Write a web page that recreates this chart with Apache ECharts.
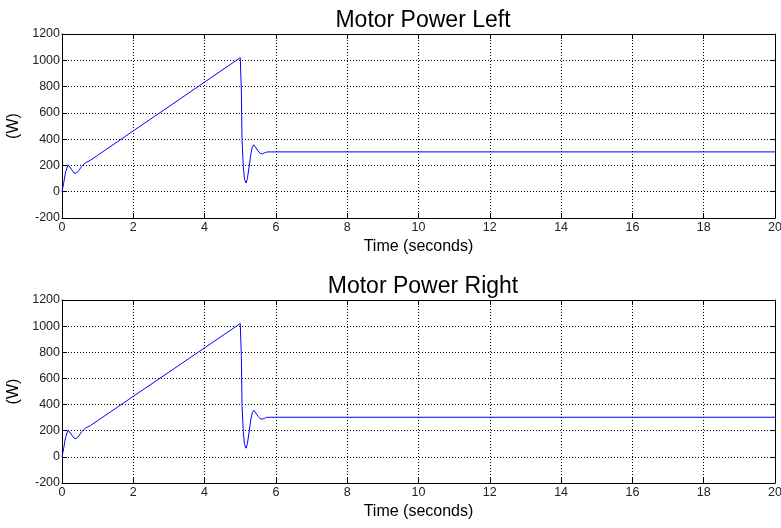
<!DOCTYPE html>
<html>
<head>
<meta charset="utf-8">
<script src="https://cdn.jsdelivr.net/npm/echarts@6/dist/echarts.min.js"></script>
<style>
  html, body { margin: 0; padding: 0; background: #fff; }
  #chart { width: 781px; height: 528px; }
</style>
</head>
<body>
<div id="chart"></div>
<script>
// time in seconds
const timeValues = [0, 0.05, 0.1, 0.17, 0.22, 0.28, 0.34, 0.4, 0.47, 0.55, 0.65, 0.8, 1, 2, 3, 4, 5,
    5.03, 5.05, 5.085, 5.12, 5.16, 5.2, 5.25, 5.3, 5.34, 5.38, 5.43, 5.5, 5.56, 5.62, 5.68, 5.74, 5.85, 6, 20];
// power (W)
const powerLeft = [0, 70, 150, 205, 195, 165, 142, 140, 160, 192, 218, 240, 277, 463, 648, 834, 1020,
    775, 395, 192, 95, 66, 100, 192, 290, 340, 357, 345, 310, 292, 288, 295, 302, 303, 303, 303];
const powerRight = [0, 70, 150, 205, 195, 165, 142, 140, 160, 192, 218, 240, 277, 463, 648, 834, 1020,
    775, 395, 192, 95, 66, 100, 192, 290, 340, 357, 345, 310, 292, 288, 295, 302, 303, 303, 303];
const titles = ['Motor Power Left', 'Motor Power Right'];

const font = '"Liberation Sans", Arial, sans-serif';
let chart = echarts.init(document.getElementById('chart'));

const gridDotted = { show: true, lineStyle: { color: '#000', type: [1, 2], width: 1 } };
const frameLine = { show: true, onZero: false, lineStyle: { color: '#000', width: 1 } };
const innerTick = { show: true, inside: true, length: 5, lineStyle: { color: '#000' } };

function xAxes(gridIndex) {
    return [
        {
            gridIndex: gridIndex,
            type: 'value',
            min: 0, max: 20, interval: 2,
            position: 'bottom',
            name: 'Time (seconds)',
            nameLocation: 'middle',
            nameGap: 21,
            nameTextStyle: { color: '#000', fontSize: 16, fontFamily: font },
            axisLine: frameLine,
            axisTick: innerTick,
            axisLabel: { color: '#222', fontSize: 12.5, fontFamily: font, margin: 3,
                         formatter: (v) => String(v) },
            splitLine: gridDotted,
        },
        {
            gridIndex: gridIndex,
            type: 'value',
            min: 0, max: 20, interval: 2,
            position: 'top',
            axisLine: frameLine,
            axisTick: innerTick,
            axisLabel: { show: false },
            splitLine: { show: false },
        },
    ];
}

function yAxes(gridIndex) {
    return [
        {
            gridIndex: gridIndex,
            type: 'value',
            min: -200, max: 1200, interval: 200,
            position: 'left',
            name: '(W)',
            nameLocation: 'middle',
            nameGap: 35,
            nameTextStyle: { color: '#000', fontSize: 16, fontFamily: font },
            axisLine: frameLine,
            axisTick: innerTick,
            axisLabel: { color: '#222', fontSize: 12.5, fontFamily: font, margin: 2,
                         formatter: (v) => String(v) },
            splitLine: gridDotted,
        },
        {
            gridIndex: gridIndex,
            type: 'value',
            min: -200, max: 1200, interval: 200,
            position: 'right',
            axisLine: frameLine,
            axisTick: innerTick,
            axisLabel: { show: false },
            splitLine: { show: false },
        },
    ];
}

chart.setOption({
    animation: false,
    title: [
        { text: titles[0], left: 418, top: 4, textAlign: 'center',
          textStyle: { color: '#000', fontSize: 23, fontWeight: 'normal', fontFamily: font } },
        { text: titles[1], left: 418, top: 270, textAlign: 'center',
          textStyle: { color: '#000', fontSize: 23, fontWeight: 'normal', fontFamily: font } },
    ],
    grid: [
        { left: 62, top: 34, width: 713, height: 184, outerBoundsMode: 'none', containLabel: false },
        { left: 62, top: 300, width: 713, height: 183, outerBoundsMode: 'none', containLabel: false },
    ],
    xAxis: [...xAxes(0), ...xAxes(1)],
    yAxis: [...yAxes(0), ...yAxes(1)],
    series: [
        {
            type: 'line',
            xAxisIndex: 0, yAxisIndex: 0,
            showSymbol: false,
            lineStyle: { color: '#0000ff', width: 1 },
            data: timeValues.map((t, i) => [t, powerLeft[i]]),
        },
        {
            type: 'line',
            xAxisIndex: 2, yAxisIndex: 2,
            showSymbol: false,
            lineStyle: { color: '#0000ff', width: 1 },
            data: timeValues.map((t, i) => [t, powerRight[i]]),
        },
    ],
});
</script>
</body>
</html>
